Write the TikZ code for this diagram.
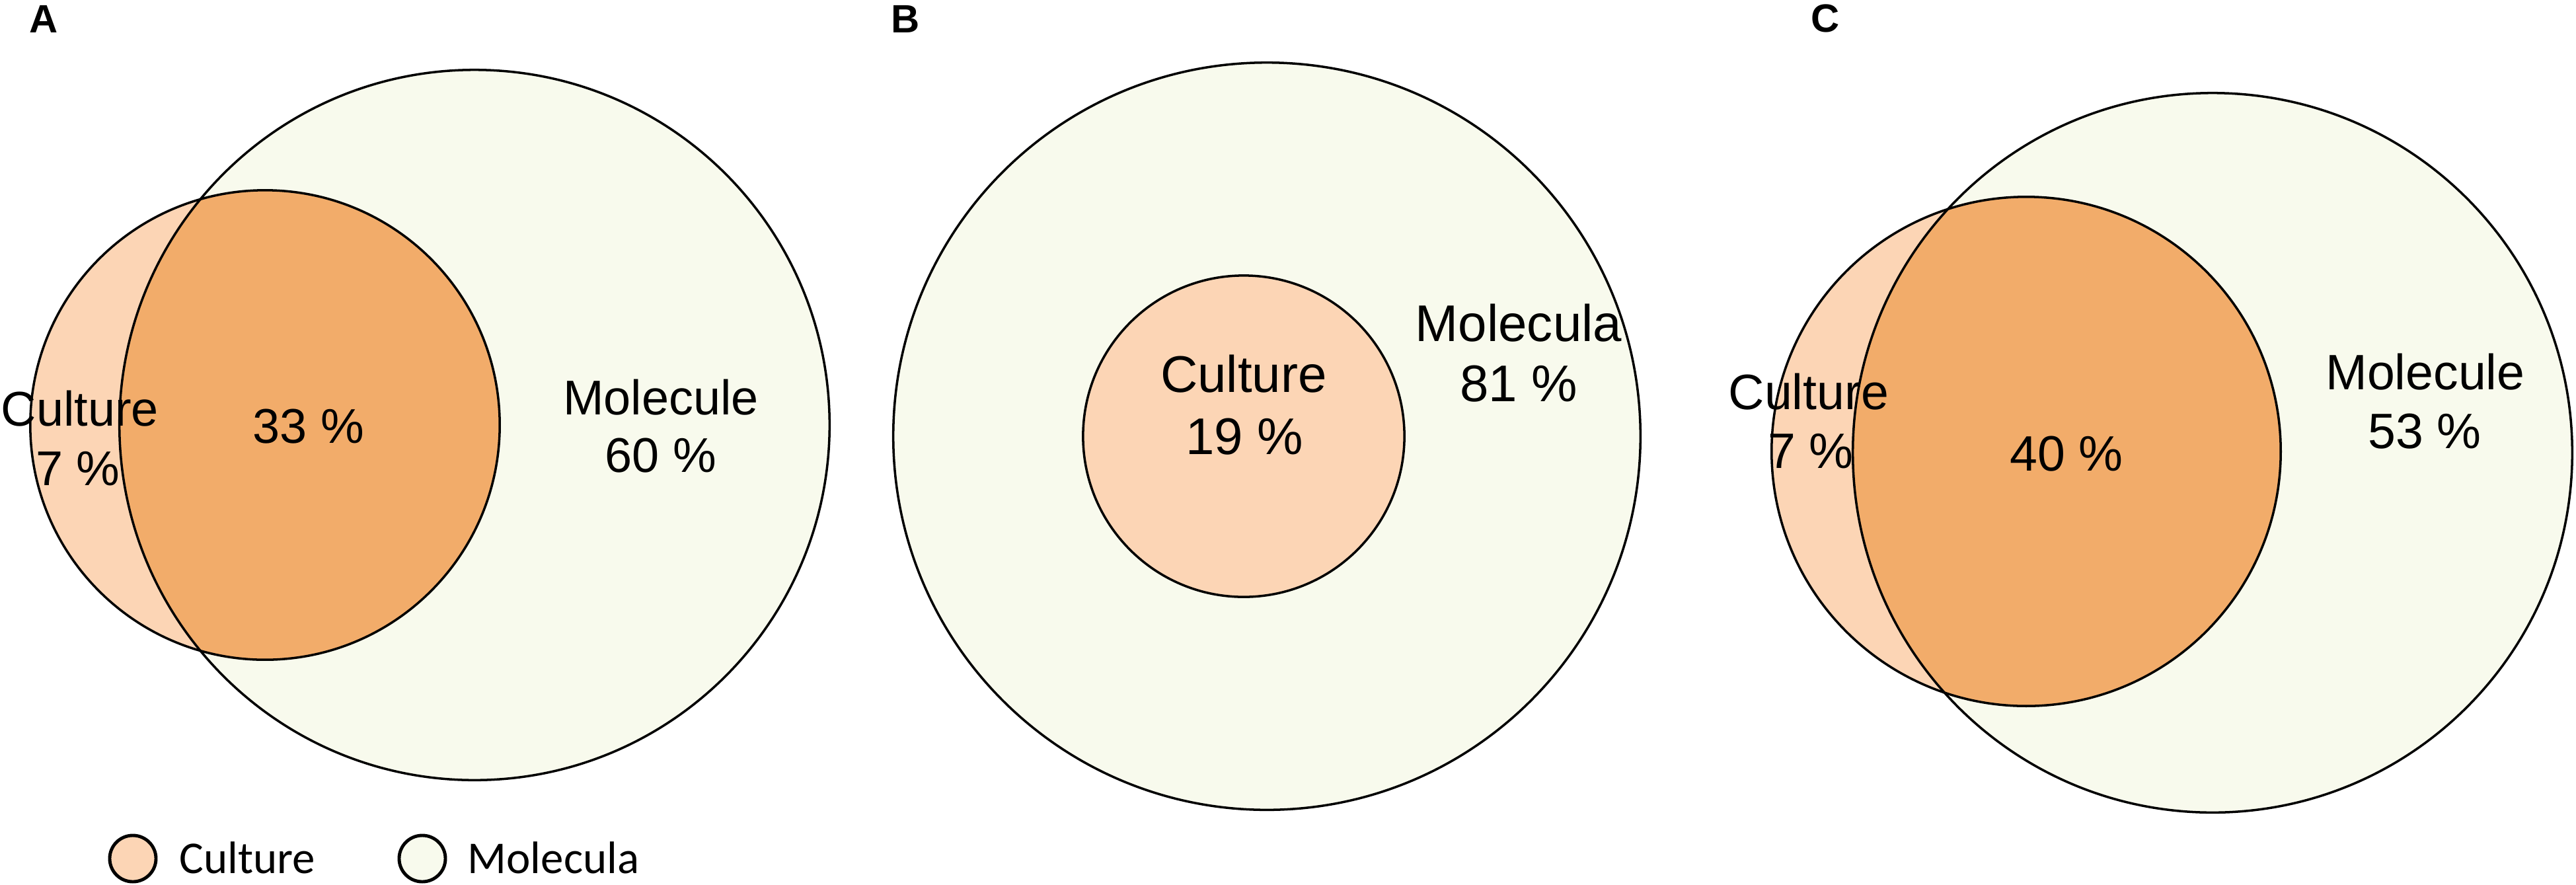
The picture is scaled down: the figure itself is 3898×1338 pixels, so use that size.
\documentclass[tikz,border=0pt]{standalone}
\usepackage{fontspec}
\setmainfont{Liberation Sans}
\newfontfamily\legendfont{Carlito}

\definecolor{molfill}{HTML}{F8FAED}
\definecolor{cultfill}{HTML}{FCD5B5}
\definecolor{bothfill}{HTML}{F2AC6A}

\begin{document}
\begin{tikzpicture}[x=0.01cm, y=-0.01cm]
    % Define styles
    \tikzset{
        ring/.style={draw=black, line width=1pt},
        pct/.style={anchor=base, inner sep=0pt, font=\fontsize{21}{25}\selectfont},
        pctB/.style={pct, font=\fontsize{22.2}{26}\selectfont},
        pctC/.style={pct, font=\fontsize{21.4}{25}\selectfont},
        panel/.style={anchor=base west, inner sep=0pt, font=\fontsize{17}{20}\selectfont\bfseries},
        legdot/.style={circle, draw=black, line width=1.4pt, minimum size=0.7cm, inner sep=0pt},
        legtext/.style={anchor=base west, inner sep=0pt, font=\legendfont\fontsize{19.6}{23}\selectfont}
    }
    \useasboundingbox (0,0) rectangle (3898,1338);

    % Panel A
    \coordinate (molA) at (718,643);
    \coordinate (cultA) at (401,643);
    \fill[molfill] (molA) circle[radius=5.37cm];
    \fill[cultfill] (cultA) circle[radius=3.55cm];
    \begin{scope}
        \clip (molA) circle[radius=5.37cm];
        \fill[bothfill] (cultA) circle[radius=3.55cm];
    \end{scope}
    \draw[ring] (molA) circle[radius=5.37cm];
    \draw[ring] (cultA) circle[radius=3.55cm];
    \node[panel] (labA) at (44,49) {A};
    \node[pct] (cultA_name) at (121,644) {Culture};
    \node[pct] (cultA_val) at (118,734) {7 \%};
    \node[pct] (bothA_val) at (467,670) {33 \%};
    \node[pct] (molA_name) at (1000,627) {Molecule};
    \node[pct] (molA_val) at (1000,714) {60 \%};

    % Panel B
    \coordinate (molB) at (1917,660);
    \coordinate (cultB) at (1882,660);
    \fill[molfill] (molB) circle[radius=5.65cm];
    \fill[cultfill] (cultB) circle[radius=2.43cm];
    \draw[ring] (molB) circle[radius=5.65cm];
    \draw[ring] (cultB) circle[radius=2.43cm];
    \node[panel] (labB) at (1348,49) {B};
    \node[pctB] (cultB_name) at (1882,593) {Culture};
    \node[pctB] (cultB_val) at (1883,687) {19 \%};
    \node[pctB] (molB_name) at (2298,516) {Molecula};
    \node[pctB] (molB_val) at (2298,607) {81 \%};

    % Panel C
    \coordinate (molC) at (3348,685);
    \coordinate (cultC) at (3066,683);
    \fill[molfill] (molC) circle[radius=5.44cm];
    \fill[cultfill] (cultC) circle[radius=3.85cm];
    \begin{scope}
        \clip (molC) circle[radius=5.44cm];
        \fill[bothfill] (cultC) circle[radius=3.85cm];
    \end{scope}
    \draw[ring] (molC) circle[radius=5.44cm];
    \draw[ring] (cultC) circle[radius=3.85cm];
    \node[panel] (labC) at (2740,48) {C};
    \node[pctC] (cultC_name) at (2737,619) {Culture};
    \node[pctC] (cultC_val) at (2740,708) {7 \%};
    \node[pctC] (bothC_val) at (3127,712) {40 \%};
    \node[pctC] (molC_name) at (3670,589) {Molecule};
    \node[pctC] (molC_val) at (3669,678) {53 \%};

    % Legend
    \node[legdot, fill=cultfill] (legcult) at (201,1299) {};
    \node[legtext] (legcult_txt) at (271,1321) {Culture};
    \node[legdot, fill=molfill] (legmol) at (639,1299) {};
    \node[legtext] (legmol_txt) at (707,1321) {Molecula};
\end{tikzpicture}
\end{document}
